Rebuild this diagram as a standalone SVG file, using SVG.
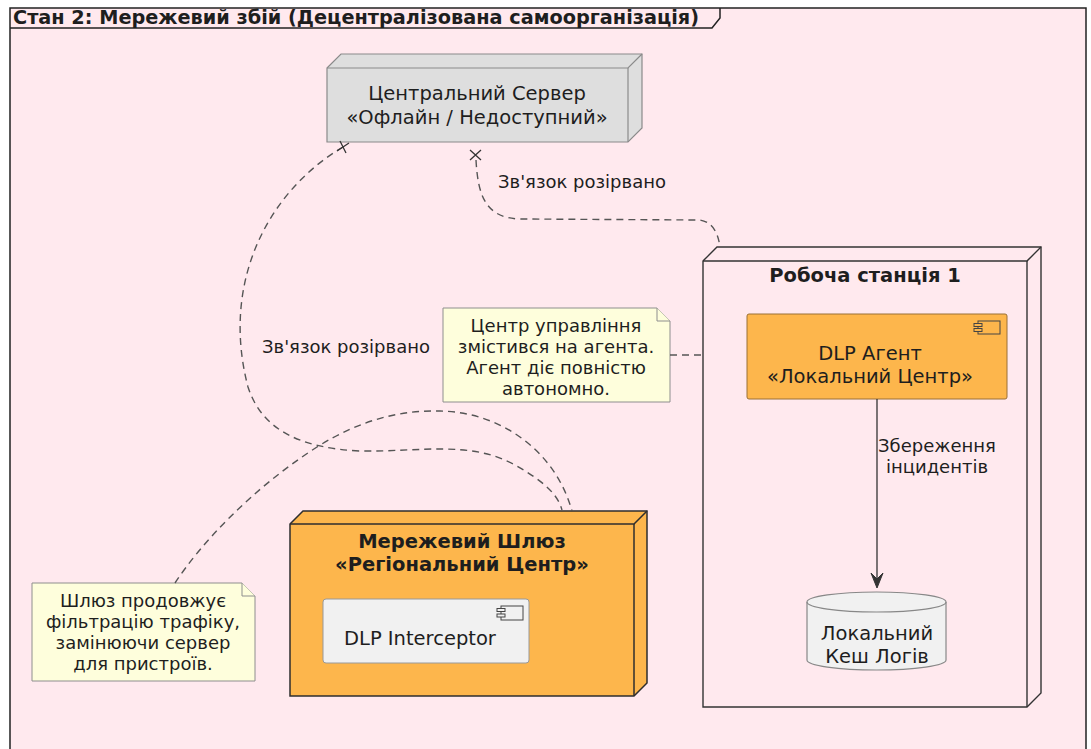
<svg xmlns="http://www.w3.org/2000/svg" width="1091" height="749" viewBox="0 0 1091 749">
  <style>
    .t { font-family: "DejaVu Sans", "Liberation Sans", sans-serif; fill: #1e1e1e; }
    .node { font-size: 19.5px; text-anchor: middle; }
    .bold { font-weight: bold; }
    .small { font-size: 18px; }
    .mid { text-anchor: middle; }
    .link { fill: none; stroke: #555; stroke-width: 1.4; stroke-dasharray: 7 5; }
    .note { fill: #FEFEDC; stroke: #8e8e8e; stroke-width: 1; }
    .icon { fill: none; stroke: #444; stroke-width: 1; }
  </style>

  <!-- frame -->
  <rect x="0" y="0" width="1091" height="749" fill="#FFFFFF"/>
  <rect x="10" y="8" width="1076" height="760" fill="#FFE9EE" stroke="#222" stroke-width="1.5"/>
  <polyline points="10,28 712,28 720,18 720,8" fill="none" stroke="#222" stroke-width="1.5"/>
  <text class="t bold" x="13" y="24" font-size="19.3">Стан 2: Мережевий збій (Децентралізована самоорганізація)</text>

  <!-- central server -->
  <g id="server">
    <polygon points="327,68 341,54 642,54 642,128 628,142 327,142" fill="#DEDEDE" stroke="#8a8a8a" stroke-width="1.2"/>
    <polyline points="327,68 628,68 642,54" fill="none" stroke="#8a8a8a" stroke-width="1.2"/>
    <line x1="628" y1="68" x2="628" y2="142" stroke="#8a8a8a" stroke-width="1.2"/>
    <text class="t node" x="477" y="100">Центральний Сервер</text>
    <text class="t node" x="477" y="124">«Офлайн / Недоступний»</text>
  </g>

  <!-- workstation -->
  <g id="workstation">
    <polygon points="703,261 717,247 1041,247 1041,693 1027,707 703,707" fill="none" stroke="#333" stroke-width="1.4"/>
    <polyline points="703,261 1027,261 1041,247" fill="none" stroke="#333" stroke-width="1.4"/>
    <line x1="1027" y1="261" x2="1027" y2="707" stroke="#333" stroke-width="1.4"/>
    <text class="t node bold" x="865" y="282">Робоча станція 1</text>
  </g>

  <!-- DLP agent -->
  <g id="agent">
    <rect x="747" y="314" width="260" height="85" rx="2" fill="#FDB64C" stroke="#9a7036" stroke-width="1"/>
    <rect class="icon" x="978" y="321" width="22" height="13"/>
    <rect x="974" y="323.5" width="8" height="3" fill="#FDB64C" stroke="#444" stroke-width="1"/>
    <rect x="974" y="328.5" width="8" height="3" fill="#FDB64C" stroke="#444" stroke-width="1"/>
    <text class="t node" x="870" y="360">DLP Агент</text>
    <text class="t node" x="870" y="383">«Локальний Центр»</text>
  </g>

  <!-- local log cache -->
  <g id="cache">
    <path d="M807,602 A69.5,10 0 0 1 946,602 L946,660 A69.5,10 0 0 1 807,660 Z" fill="#F1F1F1" stroke="#888" stroke-width="1.2"/>
    <path d="M807,602 A69.5,10 0 0 0 946,602" fill="none" stroke="#888" stroke-width="1.2"/>
    <text class="t node" x="877" y="640">Локальний</text>
    <text class="t node" x="877" y="663">Кеш Логів</text>
  </g>

  <!-- network gateway -->
  <g id="gateway">
    <polygon points="290,524 303,511 647,511 647,683 634,696 290,696" fill="#FDB64C" stroke="#2e2e2e" stroke-width="1.5"/>
    <polyline points="290,524 634,524 647,511" fill="none" stroke="#2e2e2e" stroke-width="1.5"/>
    <line x1="634" y1="524" x2="634" y2="696" stroke="#2e2e2e" stroke-width="1.5"/>
    <text class="t node bold" x="462" y="548">Мережевий Шлюз</text>
    <text class="t node bold" x="462" y="571">«Регіональний Центр»</text>
  </g>

  <!-- DLP interceptor -->
  <g id="interceptor">
    <rect x="323" y="599" width="206" height="64" rx="3" fill="#F1F1F1" stroke="#999" stroke-width="1"/>
    <rect class="icon" x="501" y="606" width="22" height="14"/>
    <rect x="497" y="608.5" width="8" height="3" fill="#F1F1F1" stroke="#444" stroke-width="1"/>
    <rect x="497" y="614" width="8" height="3" fill="#F1F1F1" stroke="#444" stroke-width="1"/>
    <text class="t" x="344" y="645" font-size="19.5">DLP Interceptor</text>
  </g>

  <!-- note on agent -->
  <g id="note-agent">
    <polygon class="note" points="443,308 657,308 670,321 670,402 443,402"/>
    <polyline class="note" points="657,308 657,321 670,321"/>
    <text class="t small mid" x="556" y="332">Центр управління</text>
    <text class="t small mid" x="556" y="353">змістився на агента.</text>
    <text class="t small mid" x="556" y="374">Агент діє повністю</text>
    <text class="t small mid" x="556" y="395">автономно.</text>
  </g>

  <!-- note on gateway -->
  <g id="note-gateway">
    <polygon class="note" points="32,583 242,583 255,596 255,681 32,681"/>
    <polyline class="note" points="242,583 242,596 255,596"/>
    <text class="t small mid" x="143" y="607">Шлюз продовжує</text>
    <text class="t small mid" x="143" y="628">фільтрацію трафіку,</text>
    <text class="t small mid" x="143" y="649">замінюючи сервер</text>
    <text class="t small mid" x="143" y="670">для пристроїв.</text>
  </g>

  <!-- connectors -->
  <g id="connectors">
    <!-- server to workstation -->
    <path class="link" d="M476,160 C478,195 485,218 520,219 L700,220 C712,222 718,232 720,247"/>
    <!-- server to gateway -->
    <path class="link" d="M343,147 C270,190 220,280 248,387 C262,430 300,448 360,451 C420,452 470,440 515,465 C545,482 558,495 562,510"/>
    <!-- gateway note -->
    <path class="link" d="M175,583 C200,545 250,490 317,447 C360,420 400,410 440,411 C500,412 555,450 572,511"/>
    <!-- agent note -->
    <path class="link" d="M670,355 L703,355"/>
    <!-- broken-link marks -->
    <path d="M337,151 L349,143 M340,141 L346,153" stroke="#333" stroke-width="1.3" fill="none"/>
    <path d="M470,150 L481,160 M481,150 L470,160" stroke="#333" stroke-width="1.3" fill="none"/>
    <!-- agent to cache -->
    <line x1="877" y1="399" x2="877" y2="584" stroke="#333" stroke-width="1.3"/>
    <polygon points="877,588 871,573 877,579 883,573" fill="#333" stroke="#333" stroke-width="1"/>
    <text class="t small" x="498" y="188">Зв'язок розірвано</text>
    <text class="t small" x="262" y="353">Зв'язок розірвано</text>
    <text class="t small mid" x="937" y="452">Збереження</text>
    <text class="t small mid" x="937" y="473">інцидентів</text>
  </g>
</svg>
